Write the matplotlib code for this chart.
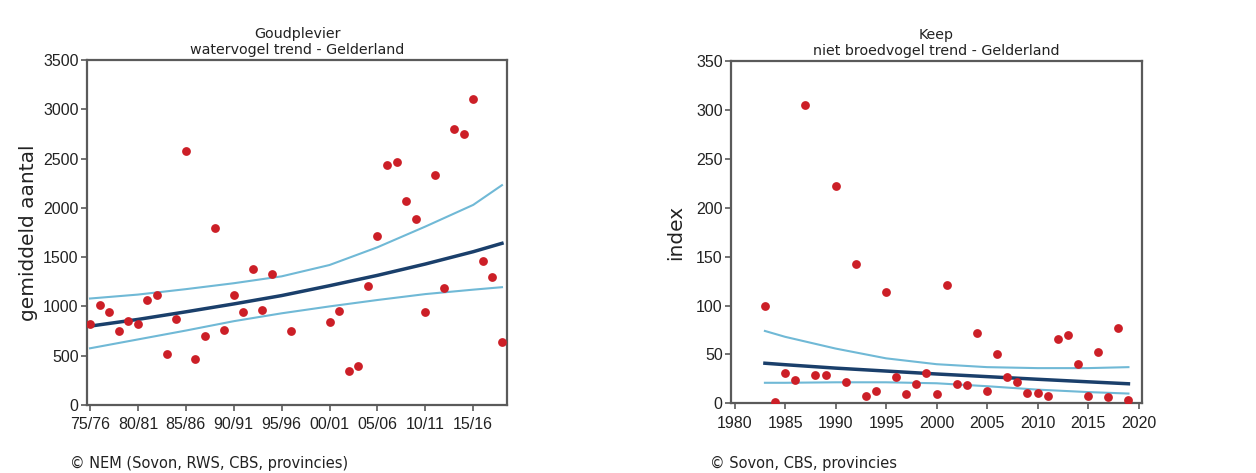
import matplotlib
matplotlib.use("Agg")
import matplotlib.pyplot as plt
import numpy as np

# Goudplevier (left) - yearly counts per season, starting year of season
gp_years = [1975, 1976, 1977, 1978, 1979, 1980, 1981, 1982, 1983, 1984,
            1985, 1986, 1987, 1988, 1989, 1990, 1991, 1992, 1993, 1994,
            1996, 2000, 2001, 2002, 2003, 2004, 2005, 2006, 2007, 2008,
            2009, 2010, 2011, 2012, 2013, 2014, 2015, 2016, 2017, 2018]
gp_counts = [820, 1010, 940, 750, 855, 820, 1065, 1115, 520, 870,
             2575, 465, 695, 1800, 765, 1120, 945, 1380, 960, 1325,
             750, 840, 955, 345, 395, 1205, 1715, 2435, 2465, 2065,
             1890, 940, 2330, 1185, 2800, 2750, 3100, 1465, 1295, 640]

gp_trend_years = [1975, 1980, 1985, 1990, 1995, 2000, 2005, 2010, 2015, 2018]
gp_trend = [800, 868, 945, 1025, 1110, 1210, 1315, 1430, 1555, 1640]
gp_upper = [1080, 1120, 1175, 1235, 1305, 1420, 1600, 1810, 2030, 2230]
gp_lower = [575, 665, 755, 850, 930, 1000, 1065, 1125, 1170, 1195]

gp_ticks = [1975, 1980, 1985, 1990, 1995, 2000, 2005, 2010, 2015]
gp_ticklabels = ["75/76", "80/81", "85/86", "90/91", "95/96",
                 "00/01", "05/06", "10/11", "15/16"]

# Keep (right) - index per year
kp_years = [1983, 1984, 1985, 1986, 1987, 1988, 1989, 1990, 1991, 1992,
            1993, 1994, 1995, 1996, 1997, 1998, 1999, 2000, 2001, 2002,
            2003, 2004, 2005, 2006, 2007, 2008, 2009, 2010, 2011, 2012,
            2013, 2014, 2015, 2016, 2017, 2018, 2019]
kp_index = [100, 1, 31, 24, 305, 29, 29, 222, 22, 142,
            8, 13, 114, 27, 10, 20, 31, 10, 121, 20,
            19, 72, 13, 50, 27, 22, 11, 11, 8, 66,
            70, 40, 8, 52, 6, 77, 3]

kp_trend_years = [1983, 1985, 1990, 1995, 2000, 2005, 2010, 2015, 2019]
kp_trend = [41, 39.5, 36, 33, 30, 27.3, 24.6, 22, 20]
kp_upper = [74, 68, 56, 46, 40, 37, 36, 36, 37]
kp_lower = [21, 21, 21.5, 21.5, 20.5, 17.5, 14, 11.5, 10]

kp_ticks = [1980, 1985, 1990, 1995, 2000, 2005, 2010, 2015, 2020]

dot_col = "#cc1f27"
dark_col = "#1a3f6b"
light_col = "#70b9d6"
spine_col = "#5a5a5a"
text_col = "#222222"

plt.rcParams["font.family"] = ["DejaVu Sans"]
tick_font = ["Liberation Sans", "DejaVu Sans"]

fig = plt.figure(figsize=(12.56, 4.73), dpi=100)
ax1 = fig.add_axes([0.0693, 0.1438, 0.3344, 0.7294])
ax2 = fig.add_axes([0.582, 0.1473, 0.3272, 0.7237])


def style(ax):
    for s in ax.spines.values():
        s.set_color(spine_col)
        s.set_linewidth(1.6)
    ax.tick_params(axis="both", direction="out", length=4, width=1.2,
                   color=spine_col, labelsize=11.5, labelcolor=text_col)
    ax.tick_params(axis="x", pad=5)
    ax.tick_params(axis="y", pad=2)
    ax.tick_params(top=False, right=False)
    for lab in ax.get_xticklabels() + ax.get_yticklabels():
        lab.set_family(tick_font)


# left chart
ax1.plot(gp_trend_years, gp_upper, color=light_col, lw=1.5, zorder=2)
ax1.plot(gp_trend_years, gp_lower, color=light_col, lw=1.5, zorder=2)
ax1.plot(gp_trend_years, gp_trend, color=dark_col, lw=2.5, zorder=3)
ax1.scatter(gp_years, gp_counts, s=40, color=dot_col, zorder=4, linewidths=0)
ax1.set_xlim(1974.69, 2018.53)
ax1.set_ylim(0, 3500)
ax1.set_yticks(np.arange(0, 3501, 500))
ax1.set_xticks(gp_ticks)
ax1.set_xticklabels(gp_ticklabels)
ax1.set_ylabel("gemiddeld aantal", fontsize=14.5, color=text_col, labelpad=4)
ax1.set_title("Goudplevier\nwatervogel trend - Gelderland", fontsize=10.3,
              color=text_col, pad=4, linespacing=1.2)
style(ax1)

# right chart
ax2.plot(kp_trend_years, kp_upper, color=light_col, lw=1.5, zorder=2)
ax2.plot(kp_trend_years, kp_lower, color=light_col, lw=1.5, zorder=2)
ax2.plot(kp_trend_years, kp_trend, color=dark_col, lw=2.5, zorder=3)
ax2.scatter(kp_years, kp_index, s=40, color=dot_col, zorder=4, linewidths=0)
ax2.set_xlim(1979.64, 2020.34)
ax2.set_ylim(0, 350)
ax2.set_yticks(np.arange(0, 351, 50))
ax2.set_xticks(kp_ticks)
ax2.set_ylabel("index", fontsize=14.5, color=text_col, labelpad=8)
ax2.set_title("Keep\nniet broedvogel trend - Gelderland", fontsize=10.3,
              color=text_col, pad=4, linespacing=1.2)
style(ax2)

fig.text(70 / 1256, 1 - 463 / 473, "\u00a9 NEM (Sovon, RWS, CBS, provincies)",
         fontsize=10.5, color=text_col, va="center", ha="left")
fig.text(710 / 1256, 1 - 463 / 473, "\u00a9 Sovon, CBS, provincies",
         fontsize=10.5, color=text_col, va="center", ha="left")

fig.savefig("out.png", dpi=100, facecolor="white")
